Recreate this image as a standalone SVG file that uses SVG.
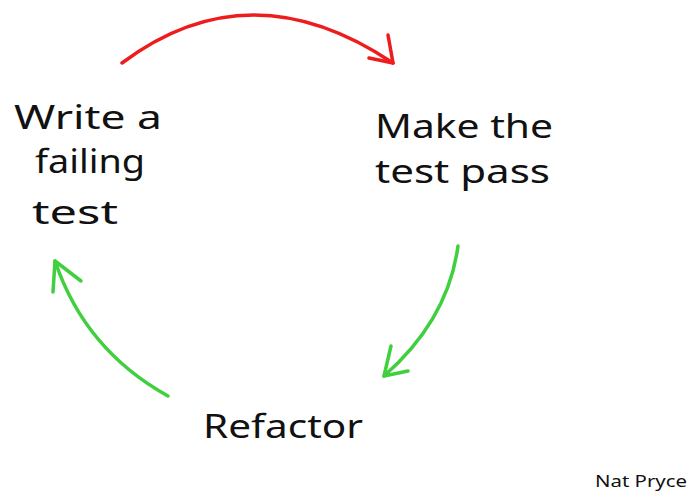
<svg xmlns="http://www.w3.org/2000/svg" width="689" height="494" viewBox="0 0 689 494">
<style>
.lbl{font-family:"Comic Sans MS","Noto Sans","DejaVu Sans",sans-serif;fill:#111;font-size:32px;}
.sig{font-family:"Noto Sans","DejaVu Sans",sans-serif;fill:#111;font-size:17px;}
.red{fill:none;stroke:#ee1c1c;stroke-width:3.5;stroke-linecap:round;stroke-linejoin:round;}
.grn{fill:none;stroke:#3fcf3f;stroke-width:3.5;stroke-linecap:round;stroke-linejoin:round;}
</style>
<rect width="689" height="494" fill="#fff"/>
<g id="connectors">
  <g id="edge-write-make">
    <path class="red" d="M122,63 Q250,-33 393,63"/>
    <path class="red" d="M388,35 L393,63 L369,58"/>
  </g>
  <g id="edge-make-refactor">
    <path class="grn" d="M458,246 Q448,320 384,376"/>
    <path class="grn" d="M391,346 L384,376 L408,371"/>
  </g>
  <g id="edge-refactor-write">
    <path class="grn" d="M168,396 Q85,350 55,261"/>
    <path class="grn" d="M53,292 L55,261 L81,281"/>
  </g>
</g>
<g id="node-write">
  <text class="lbl" x="14" y="129" textLength="148" lengthAdjust="spacingAndGlyphs">Write a</text>
  <text class="lbl" x="35" y="173" textLength="110" lengthAdjust="spacingAndGlyphs">failing</text>
  <text class="lbl" x="32" y="224" textLength="86" lengthAdjust="spacingAndGlyphs">test</text>
</g>
<g id="node-make">
  <text class="lbl" x="375" y="138" textLength="178" lengthAdjust="spacingAndGlyphs">Make the</text>
  <text class="lbl" x="375" y="183" textLength="175" lengthAdjust="spacingAndGlyphs">test pass</text>
</g>
<g id="node-refactor">
  <text class="lbl" x="203" y="438" font-size="42" textLength="160" lengthAdjust="spacingAndGlyphs">Refactor</text>
</g>
<g id="signature">
  <text class="sig" x="595" y="487" textLength="92" lengthAdjust="spacingAndGlyphs">Nat Pryce</text>
</g>
</svg>
